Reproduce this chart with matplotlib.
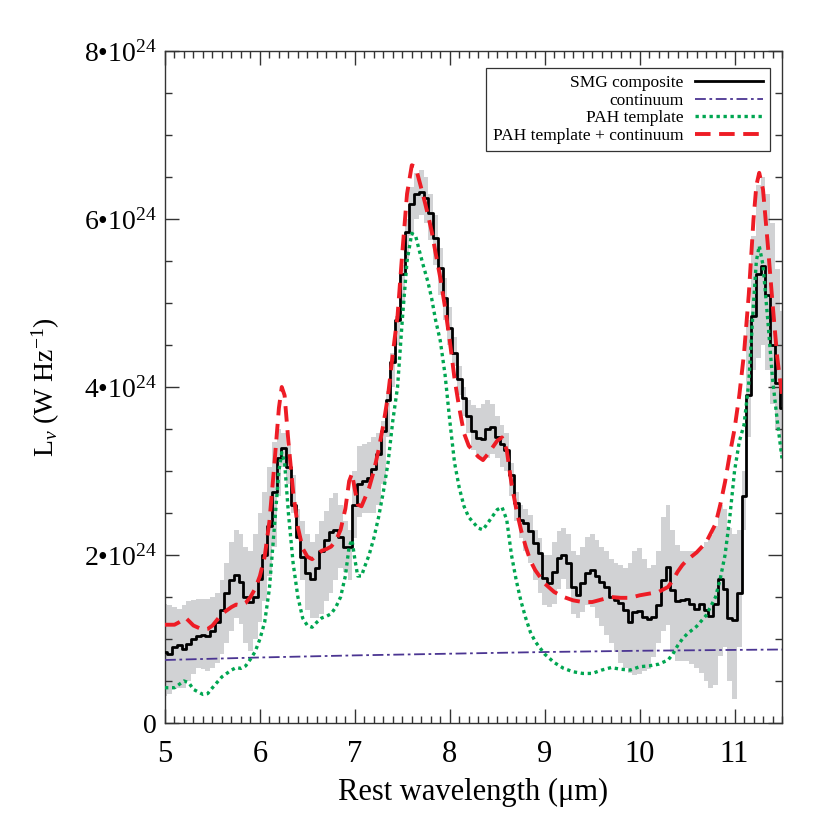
import numpy as np
import matplotlib
matplotlib.use("Agg")
import matplotlib.pyplot as plt
from matplotlib.ticker import MultipleLocator, FixedLocator, FixedFormatter

plt.rcParams['font.family'] = ['Liberation Serif', 'DejaVu Serif']
plt.rcParams['mathtext.fontset'] = 'custom'
plt.rcParams['mathtext.rm'] = 'Liberation Serif'
plt.rcParams['mathtext.it'] = 'Liberation Serif:italic'

# wavelength grid of the binned composite (um), 0.05 um bins
wl = np.round(np.arange(5.0, 11.501, 0.05), 2)

# SMG composite, units of 1e24 W/Hz
smg = [0.85, 0.82, 0.90, 0.93, 0.88, 0.94, 1.00, 1.03, 1.05, 1.04,
       1.10, 1.20, 1.35, 1.55, 1.70, 1.76, 1.68, 1.50, 1.44, 1.50,
       1.72, 2.00, 2.35, 2.75, 3.15, 3.27, 3.05, 2.60, 2.22, 1.98,
       1.78, 1.72, 1.85, 2.05, 2.18, 2.27, 2.30, 2.22, 2.10, 2.10,
       2.60, 2.85, 2.88, 2.92, 3.02, 3.20, 3.48, 3.85, 4.30, 4.80,
       5.35, 5.85, 6.18, 6.30, 6.32, 6.25, 6.07, 5.77, 5.42, 5.06,
       4.70, 4.40, 4.10, 3.87, 3.65, 3.48, 3.39, 3.38, 3.50, 3.52,
       3.40, 3.32, 3.25, 2.95, 2.62, 2.42, 2.38, 2.29, 2.14, 2.02,
       1.73, 1.67, 1.80, 1.96, 2.00, 1.90, 1.62, 1.52, 1.67, 1.79,
       1.82, 1.75, 1.68, 1.62, 1.50, 1.46, 1.43, 1.35, 1.20, 1.32,
       1.33, 1.26, 1.24, 1.26, 1.40, 1.70, 1.86, 1.58, 1.45, 1.46,
       1.48, 1.42, 1.36, 1.42, 1.34, 1.27, 1.42, 1.72, 1.60, 1.25,
       1.23, 1.55, 2.70, 3.90, 4.85, 5.35, 5.44, 5.10, 4.50, 4.05,
       3.75]

smg_hi = [1.42, 1.40, 1.38, 1.36, 1.40, 1.45, 1.47, 1.48, 1.48, 1.48,
          1.50, 1.55, 1.70, 1.90, 2.15, 2.30, 2.25, 2.10, 2.05, 2.25,
          2.50, 2.75, 3.05, 3.35, 3.50, 3.45, 3.30, 2.95, 2.55, 2.40,
          2.25, 2.15, 2.25, 2.40, 2.52, 2.68, 2.74, 2.60, 2.40, 2.30,
          3.00, 3.30, 3.32, 3.35, 3.40, 3.45, 3.60, 3.95, 4.40, 4.85,
          5.45, 6.00, 6.38, 6.55, 6.58, 6.50, 6.30, 6.05, 5.65, 5.30,
          4.95, 4.60, 4.25, 4.00, 3.85, 3.78, 3.75, 3.80, 3.85, 3.80,
          3.65, 3.55, 3.45, 3.10, 2.75, 2.60, 2.55, 2.48, 2.30, 2.20,
          2.00, 2.00, 2.15, 2.28, 2.32, 2.25, 2.05, 2.00, 2.10, 2.22,
          2.25, 2.18, 2.10, 2.05, 1.95, 1.90, 1.88, 1.85, 1.90, 2.05,
          2.08, 1.95, 1.85, 1.88, 2.05, 2.45, 2.60, 2.30, 2.12, 2.05,
          2.05, 2.05, 2.05, 2.10, 2.15, 2.24, 2.35, 2.60, 2.55, 2.32,
          2.25, 2.30, 3.00, 4.80, 5.80, 6.40, 6.50, 6.30, 5.95, 5.40,
          4.90]

smg_lo = [0.32, 0.35, 0.40, 0.42, 0.42, 0.50, 0.58, 0.65, 0.64, 0.62,
          0.65, 0.72, 0.82, 0.95, 1.10, 1.25, 1.18, 0.95, 0.86, 1.00,
          1.20, 1.45, 1.75, 2.10, 2.70, 3.05, 2.85, 2.50, 2.20, 1.70,
          1.35, 1.25, 1.25, 1.30, 1.45, 1.55, 1.70, 1.85, 1.80, 1.70,
          2.20, 2.45, 2.50, 2.50, 2.50, 2.60, 2.85, 3.40, 4.00, 4.50,
          5.00, 5.50, 5.80, 6.00, 6.05, 5.95, 5.75, 5.45, 5.10, 4.80,
          4.50, 4.25, 3.90, 3.65, 3.45, 3.25, 3.18, 3.12, 3.15, 3.20,
          3.15, 3.05, 3.00, 2.70, 2.40, 2.20, 2.05, 1.90, 1.70, 1.55,
          1.40, 1.38, 1.42, 1.60, 1.72, 1.60, 1.30, 1.25, 1.32, 1.40,
          1.38, 1.25, 1.15, 1.05, 0.95, 0.85, 0.72, 0.65, 0.60, 0.57,
          0.58, 0.62, 0.64, 0.78, 0.95, 1.10, 1.17, 0.85, 0.74, 0.74,
          0.74, 0.70, 0.65, 0.60, 0.50, 0.42, 0.45, 0.80, 0.90, 0.50,
          0.28, 0.90, 2.30, 3.40, 4.20, 4.35, 4.50, 4.20, 3.80, 3.50,
          3.20]

# continuum
cont_wl = [5.0, 6.0, 7.0, 8.0, 9.0, 10.0, 11.0, 11.5]
cont = [0.75, 0.78, 0.805, 0.825, 0.845, 0.86, 0.87, 0.875]

# PAH template
pah_wl = [5.0, 5.1, 5.2, 5.25, 5.3, 5.4, 5.45, 5.5, 5.6, 5.7, 5.75, 5.8, 5.85,
          5.9, 5.95, 6.0, 6.05, 6.1, 6.15, 6.2, 6.23, 6.26, 6.3, 6.35, 6.4,
          6.45, 6.5, 6.55, 6.6, 6.65, 6.7, 6.75, 6.8, 6.85, 6.9, 6.94, 6.97,
          7.0, 7.03, 7.07, 7.1, 7.15, 7.2, 7.25, 7.3, 7.35, 7.4, 7.45, 7.5,
          7.55, 7.6, 7.64, 7.68, 7.72, 7.77, 7.81, 7.85, 7.9, 7.95, 8.0, 8.05,
          8.1, 8.15, 8.2, 8.3, 8.35, 8.4, 8.45, 8.5, 8.55, 8.6, 8.65, 8.7,
          8.75, 8.8, 8.85, 8.9, 9.0, 9.1, 9.2, 9.3, 9.4, 9.5, 9.6, 9.7, 9.8,
          9.9, 10.0, 10.1, 10.2, 10.3, 10.35, 10.4, 10.45, 10.5, 10.6, 10.7,
          10.8, 10.85, 10.9, 10.95, 11.0, 11.05, 11.1, 11.15, 11.2, 11.23,
          11.26, 11.3, 11.35, 11.4, 11.45, 11.5]
pah = [0.42, 0.42, 0.50, 0.48, 0.40, 0.34, 0.35, 0.42, 0.55, 0.63, 0.66, 0.65, 0.68,
       0.76, 0.85, 1.00, 1.20, 1.60, 2.30, 3.00, 3.22, 3.10, 2.50, 1.90, 1.50,
       1.25, 1.16, 1.14, 1.20, 1.25, 1.27, 1.30, 1.38, 1.50, 1.75, 2.10, 2.18,
       1.95, 1.75, 1.75, 1.85, 2.00, 2.20, 2.45, 2.75, 3.10, 3.60, 4.00, 4.80,
       5.50, 5.83, 5.80, 5.62, 5.45, 5.25, 5.05, 4.80, 4.55, 4.15, 3.60, 3.10,
       2.80, 2.58, 2.45, 2.32, 2.30, 2.38, 2.46, 2.54, 2.57, 2.42, 2.00, 1.70,
       1.45, 1.25, 1.08, 0.97, 0.82, 0.72, 0.65, 0.61, 0.59, 0.59, 0.63, 0.66, 0.64,
       0.63, 0.67, 0.68, 0.70, 0.75, 0.82, 0.92, 1.00, 1.06, 1.15, 1.28,
       1.50, 1.72, 2.00, 2.45, 3.00, 3.35, 3.55, 4.05, 5.00, 5.50,
       5.68, 5.45, 4.80, 4.10, 3.60, 3.15]

# PAH template + continuum
fit_wl = [5.0, 5.1, 5.15, 5.22, 5.3, 5.4, 5.45, 5.5, 5.6, 5.7, 5.75, 5.8, 5.85,
          5.9, 5.95, 6.0, 6.05, 6.1, 6.15, 6.2, 6.23, 6.26, 6.3, 6.35, 6.4,
          6.45, 6.5, 6.55, 6.6, 6.65, 6.7, 6.75, 6.8, 6.85, 6.9, 6.94, 6.97,
          7.0, 7.03, 7.07, 7.1, 7.15, 7.2, 7.25, 7.3, 7.35, 7.4, 7.45, 7.5,
          7.55, 7.6, 7.64, 7.68, 7.72, 7.77, 7.81, 7.85, 7.9, 7.95, 8.0, 8.05,
          8.1, 8.15, 8.2, 8.3, 8.35, 8.4, 8.45, 8.5, 8.55, 8.6, 8.65, 8.7,
          8.75, 8.8, 8.85, 8.9, 9.0, 9.1, 9.2, 9.3, 9.4, 9.5, 9.6, 9.7, 9.8,
          9.9, 10.0, 10.1, 10.2, 10.3, 10.35, 10.4, 10.45, 10.5, 10.6, 10.7,
          10.8, 10.85, 10.9, 10.95, 11.0, 11.05, 11.1, 11.15, 11.2, 11.23,
          11.26, 11.3, 11.35, 11.4, 11.45, 11.5]
fit = [1.17, 1.17, 1.20, 1.25, 1.16, 1.11, 1.12, 1.16, 1.30, 1.38, 1.41, 1.40, 1.43,
       1.50, 1.60, 1.75, 1.98, 2.40, 3.05, 3.75, 4.00, 3.90, 3.35, 2.75, 2.33,
       2.08, 1.98, 1.95, 2.00, 2.05, 2.07, 2.10, 2.17, 2.30, 2.55, 2.88, 2.97,
       2.78, 2.60, 2.58, 2.66, 2.80, 3.00, 3.25, 3.55, 3.90, 4.40, 4.85, 5.60,
       6.30, 6.64, 6.62, 6.45, 6.28, 6.05, 5.85, 5.60, 5.30, 4.95, 4.55, 4.10,
       3.75, 3.45, 3.30, 3.17, 3.13, 3.20, 3.28, 3.36, 3.40, 3.25, 2.85, 2.55,
       2.30, 2.10, 1.93, 1.82, 1.66, 1.56, 1.50, 1.46, 1.44, 1.44, 1.47, 1.50, 1.49,
       1.49, 1.52, 1.54, 1.56, 1.62, 1.70, 1.80, 1.88, 1.94, 2.03, 2.15,
       2.37, 2.60, 2.87, 3.20, 3.50, 3.90, 4.40, 5.10, 6.00, 6.40,
       6.55, 6.35, 5.70, 5.00, 4.35, 3.90]

fig = plt.figure(figsize=(8.3, 8.3), dpi=100)
ax = fig.add_axes([165 / 830, 107 / 830, 617 / 830, 672 / 830])

ax.fill_between(wl, smg_lo, smg_hi, step='mid', color='#d1d2d4', lw=0)
ax.step(wl, smg, where='mid', color='black', lw=2.0, label='SMG composite', zorder=3)
ax.plot(cont_wl, cont, color='#4b3592', lw=1.3, dashes=(6, 2, 1.5, 2),
        label='continuum', zorder=4)
ax.plot(pah_wl, pah, color='#00a651', lw=2.4, dashes=(1, 1.1),
        label='PAH template', zorder=4)
ax.plot(fit_wl, fit, color='#ee1c25', lw=2.8, dashes=(4, 2.2),
        label='PAH template + continuum', zorder=5)

ax.set_xlim(5, 11.5)
ax.set_ylim(0, 8)
ax.xaxis.set_major_locator(MultipleLocator(1))
ax.xaxis.set_minor_locator(MultipleLocator(0.1))
ax.yaxis.set_major_locator(FixedLocator([0, 2, 4, 6, 8]))
ax.yaxis.set_major_formatter(FixedFormatter(['0', '2•10$^{24}$', '4•10$^{24}$',
                                             '6•10$^{24}$', '8•10$^{24}$']))
ax.yaxis.set_minor_locator(MultipleLocator(0.5))
ax.tick_params(which='both', direction='in', top=True, right=True, width=1.0,
               color='#333333')
ax.tick_params(which='major', length=10)
ax.tick_params(which='minor', length=5)
ax.tick_params(axis='x', labelsize=22, pad=12)
ax.tick_params(axis='y', labelsize=20, pad=6)
for s in ax.spines.values():
    s.set_linewidth(1.0)
    s.set_color('#333333')

ax.set_xlabel('Rest wavelength (μm)', fontsize=22, labelpad=7)
ax.set_ylabel(r'L$_\nu$ (W Hz$^{-1}$)', fontsize=20, labelpad=16)

leg = ax.legend(loc='upper right', bbox_to_anchor=(0.9805, 0.9747),
                borderaxespad=0, fontsize=12.5, markerfirst=False,
                fancybox=False, framealpha=1, edgecolor='#333333',
                handlelength=3.9, handletextpad=0.7, labelspacing=0.08,
                borderpad=0.4)
leg.get_frame().set_linewidth(0.9)

fig.savefig('out.png', dpi=100)
